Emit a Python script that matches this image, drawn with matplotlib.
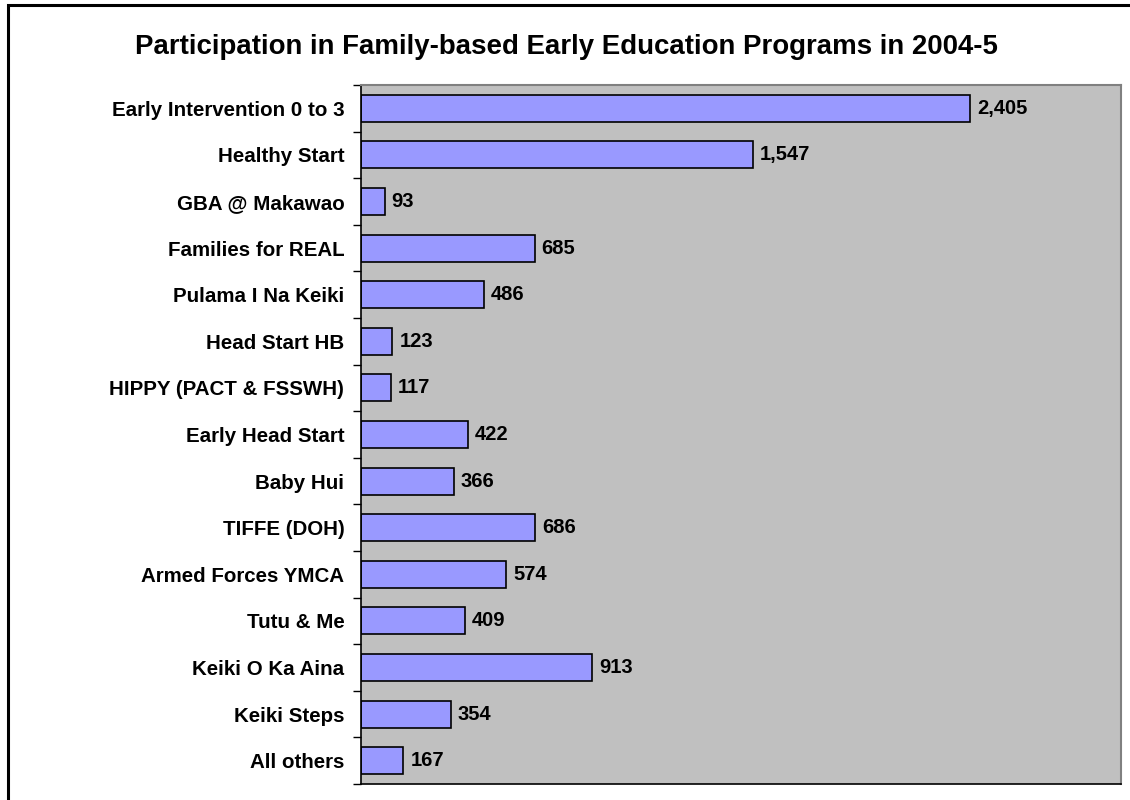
import matplotlib.pyplot as plt
from matplotlib.patches import Rectangle
from matplotlib.ticker import FixedLocator

plt.rcParams['font.family'] = ['Liberation Sans', 'DejaVu Sans']

programs = ['Early Intervention 0 to 3', 'Healthy Start', 'GBA @ Makawao',
            'Families for REAL', 'Pulama I Na Keiki', 'Head Start HB',
            'HIPPY (PACT & FSSWH)', 'Early Head Start', 'Baby Hui',
            'TIFFE (DOH)', 'Armed Forces YMCA', 'Tutu & Me',
            'Keiki O Ka Aina', 'Keiki Steps', 'All others']
participants = [2405, 1547, 93, 685, 486, 123, 117, 422, 366,
                686, 574, 409, 913, 354, 167]

W, H = 1130, 800
fig = plt.figure(figsize=(W / 100, H / 100), dpi=100)
ax = fig.add_axes([361 / W, 1 - 784 / H, (1121 - 361) / W, (784 - 85) / H])

# outer chart border (only top/left visible in the original crop)
fig.patches.append(Rectangle((8 / W, -0.1), 1.2, 1.1 - 5 / H, transform=fig.transFigure,
                             fill=False, edgecolor='black', linewidth=2.2))

ypos = list(range(len(programs)))
ax.barh(ypos, participants, height=0.58, color='#9999FF', edgecolor='black', linewidth=1.2)

for y, v in zip(ypos, participants):
    ax.text(v + 28, y, f'{v:,}', va='center', ha='left', fontsize=14.5, fontweight='bold')

ax.set_facecolor('#C0C0C0')
ax.set_xlim(0, 3000)
ax.set_ylim(len(programs) - 0.5, -0.5)
ax.set_xticks([])
ax.set_yticks(ypos)
ax.set_yticklabels(programs, fontsize=14.8, fontweight='bold')
ax.tick_params(axis='y', which='major', length=0, pad=12)
ax.yaxis.set_minor_locator(FixedLocator([i - 0.5 for i in range(len(programs) + 1)]))
ax.tick_params(axis='y', which='minor', length=6, width=1, color='black')

for s in ['left', 'bottom']:
    ax.spines[s].set_color('black')
    ax.spines[s].set_linewidth(1.2)
for s in ['top', 'right']:
    ax.spines[s].set_color('#808080')
    ax.spines[s].set_linewidth(1.5)

fig.text((133 + 1000) / 2 / W, 1 - 47 / H,
         'Participation in Family-based Early Education Programs in 2004-5',
         ha='center', va='center', fontsize=19.9, fontweight='bold')

fig.savefig('out.png', dpi=100)
